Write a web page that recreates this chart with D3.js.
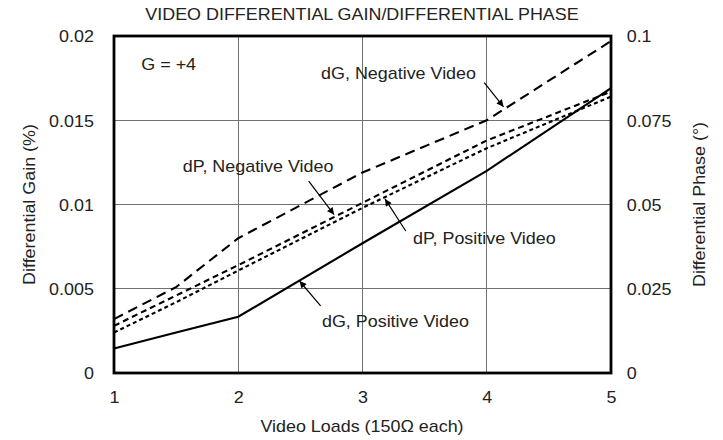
<!DOCTYPE html>
<meta charset="utf-8">
<head>
  <meta charset="utf-8">
  <title>Video Differential Gain/Differential Phase</title>
  <style>
    body { margin: 0; background: #fff; }
    svg text { font-family: "Liberation Sans", Arial, sans-serif; font-size: 16px; fill: #222; }
    .grid line { stroke: #707070; stroke-width: 1; shape-rendering: crispEdges; }
    .frame { fill: none; stroke: #000; stroke-width: 2.8; }
    .curve { fill: none; stroke: #000; stroke-width: 2.1; }
    .arrow { stroke: #000; stroke-width: 1.2; }
  </style>
</head>
<body>
<div id="chart"></div>
<script src="https://d3js.org/d3.v7.min.js"></script>
<script>

// data
var loads = [1, 1.5, 2, 3, 4, 5];
var dGPositive = [0.00145, 0.0024, 0.00334, 0.0077, 0.012, 0.0169];   // %
var dGNegative = [0.0032, 0.0051, 0.008, 0.0119, 0.015, 0.0197];      // %
var dPPositive = [0.012, 0.021, 0.0304, 0.049, 0.0667, 0.082];        // degrees
var dPNegative = [0.014, 0.023, 0.032, 0.0505, 0.069, 0.0835];        // degrees

var xTicks = [1, 2, 3, 4, 5];
var gainTicks = [0, 0.005, 0.01, 0.015, 0.02];
var gainLabels = ["0", "0.005", "0.01", "0.015", "0.02"];
var phaseTicks = [0, 0.025, 0.05, 0.075, 0.1];
var phaseLabels = ["0", "0.025", "0.05", "0.075", "0.1"];

// set the dimensions and margins of the graph
var margin = {top: 36, right: 112, bottom: 67, left: 114},
    width = 723 - margin.left - margin.right,
    height = 440 - margin.top - margin.bottom;

// the original lettering is a little wider than Liberation Sans
var stretch = "scale(1.12,1)";

var svg = d3.select("#chart")
  .append("svg")
    .attr("width", 723)
    .attr("height", 440)
  .append("g")
    .attr("transform", "translate(" + margin.left + "," + margin.top + ")");

var x = d3.scaleLinear().domain([1, 5]).range([0, width]);
var y = d3.scaleLinear().domain([0, 0.02]).range([height, 0]);
var y2 = d3.scaleLinear().domain([0, 0.1]).range([height, 0]);

// grid
var grid = svg.append("g").attr("class", "grid");
grid.selectAll(".gx").data(xTicks).enter().append("line")
  .attr("x1", function(d) { return x(d); })
  .attr("x2", function(d) { return x(d); })
  .attr("y1", 0).attr("y2", height);
grid.selectAll(".gy").data(gainTicks).enter().append("line")
  .attr("x1", 0).attr("x2", width)
  .attr("y1", function(d) { return y(d); })
  .attr("y2", function(d) { return y(d); });

// axes (labels only, frame drawn separately)
var xAxis = svg.append("g")
  .attr("transform", "translate(0," + height + ")")
  .call(d3.axisBottom(x).tickValues(xTicks).tickSize(0).tickPadding(19).tickFormat(d3.format("d")));
var yAxis = svg.append("g")
  .call(d3.axisLeft(y).tickValues(gainTicks).tickSize(0).tickPadding(18)
    .tickFormat(function(d, i) { return gainLabels[i]; }));
var y2Axis = svg.append("g")
  .attr("transform", "translate(" + width + ",0)")
  .call(d3.axisRight(y2).tickValues(phaseTicks).tickSize(0).tickPadding(14)
    .tickFormat(function(d, i) { return phaseLabels[i]; }));

[xAxis, yAxis, y2Axis].forEach(function(a) {
  a.attr("font-size", null).attr("font-family", null);
  a.select(".domain").remove();
  a.selectAll("text")
    .style("font-size", "16px")
    .attr("transform", stretch);
});
yAxis.selectAll("text").attr("dy", "0.36em");
y2Axis.selectAll("text").attr("dy", "0.36em");

// curves
var lineGain = d3.line()
  .x(function(d, i) { return x(loads[i]); })
  .y(function(d) { return y(d); });
var linePhase = d3.line()
  .x(function(d, i) { return x(loads[i]); })
  .y(function(d) { return y2(d); });

svg.append("path").datum(dGPositive).attr("class", "curve").attr("d", lineGain);
svg.append("path").datum(dGNegative).attr("class", "curve")
  .attr("stroke-dasharray", "10,6").attr("d", lineGain);
svg.append("path").datum(dPNegative).attr("class", "curve")
  .attr("stroke-dasharray", "6,4").attr("d", linePhase);
svg.append("path").datum(dPPositive).attr("class", "curve")
  .attr("stroke-dasharray", "4,3").attr("d", linePhase);

// frame
svg.append("rect").attr("class", "frame")
  .attr("x", 0).attr("y", 0).attr("width", width).attr("height", height);

// annotations (data units)
var notes = [
  {text: "G = +4", x: 1.44, y: 0.0183},
  {text: "dG, Negative Video", x: 3.29, y: 0.0178, ax: [3.98, 0.01723, 4.135, 0.0158]},
  {text: "dP, Negative Video", x: 2.16, y: 0.0123, ax: [2.567, 0.01139, 2.771, 0.0094]},
  {text: "dP, Positive Video", x: 3.98, y: 0.0080, ax: [3.348, 0.00843, 3.181, 0.01033]},
  {text: "dG, Positive Video", x: 3.265, y: 0.00307, ax: [2.663, 0.00398, 2.493, 0.00546]}
];

svg.append("defs").append("marker")
  .attr("id", "head")
  .attr("viewBox", "0 0 10 10")
  .attr("refX", 10).attr("refY", 5)
  .attr("markerUnits", "userSpaceOnUse")
  .attr("markerWidth", 10).attr("markerHeight", 7)
  .attr("orient", "auto")
  .append("path").attr("d", "M0,0L10,5L0,10z").attr("fill", "#000");

notes.forEach(function(n) {
  svg.append("g")
    .attr("transform", "translate(" + x(n.x) + "," + y(n.y) + ") " + stretch)
    .append("text")
      .attr("text-anchor", "middle")
      .attr("dy", "0.36em")
      .text(n.text);
  if (n.ax) {
    svg.append("line").attr("class", "arrow")
      .attr("x1", x(n.ax[0])).attr("y1", y(n.ax[1]))
      .attr("x2", x(n.ax[2])).attr("y2", y(n.ax[3]))
      .attr("marker-end", "url(#head)");
  }
});

// title and axis titles
var root = d3.select("#chart svg");
root.append("g").attr("transform", "translate(362,20) " + stretch)
  .append("text").attr("text-anchor", "middle").text("VIDEO DIFFERENTIAL GAIN/DIFFERENTIAL PHASE");
root.append("g").attr("transform", "translate(362,432) " + stretch)
  .append("text").attr("text-anchor", "middle").text("Video Loads (150\u03A9 each)");
root.append("g").attr("transform", "translate(35," + (margin.top + height / 2) + ") rotate(-90) " + stretch)
  .append("text").attr("text-anchor", "middle").text("Differential Gain (%)");
root.append("g").attr("transform", "translate(705," + (margin.top + height / 2) + ") rotate(-90) " + stretch)
  .append("text").attr("text-anchor", "middle").text("Differential Phase (\u00B0)");

</script>
</body>
